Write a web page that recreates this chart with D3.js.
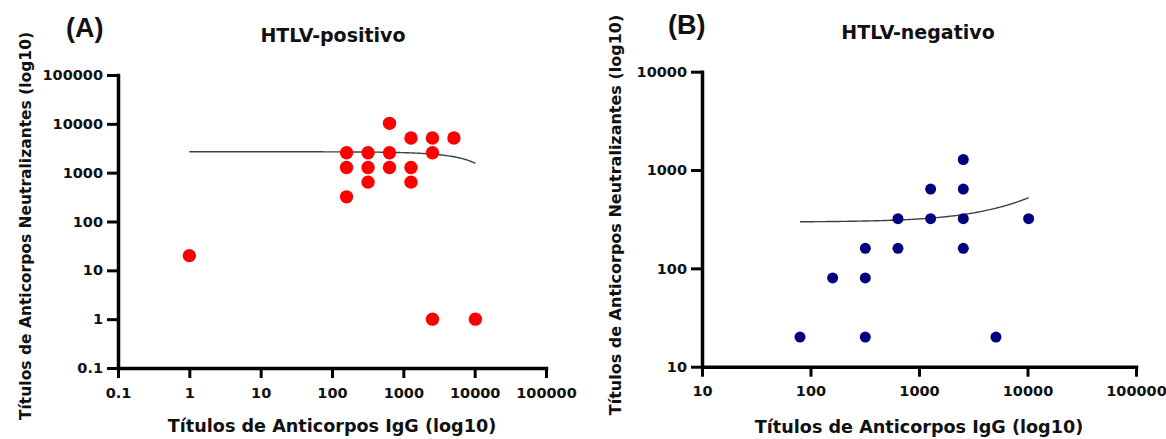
<!DOCTYPE html>
<html>
<head>
<meta charset="utf-8">
<script src="https://cdn.jsdelivr.net/npm/d3@7"></script>
<style>
  html, body { margin: 0; padding: 0; background: #ffffff; }
  svg { display: block; }
  text { font-family: "DejaVu Sans", sans-serif; font-weight: bold; fill: #111; }
</style>
</head>
<body>
<svg id="chart" width="1166" height="439"></svg>
<script>
// ---------- DATA ----------
const posIgG  = [1, 160, 160, 160, 320, 320, 320, 640, 640, 640, 1280, 1280, 1280, 2560, 2560, 2560, 5120, 10240];
const posNeut = [20, 2560, 1280, 320, 2560, 1280, 640, 10240, 2560, 1280, 5120, 1280, 640, 5120, 2560, 1, 5120, 1];

const negIgG  = [80, 160, 320, 320, 320, 640, 640, 1280, 1280, 2560, 2560, 2560, 2560, 5120, 10240];
const negNeut = [20, 80, 160, 80, 20, 320, 160, 640, 320, 1280, 640, 320, 160, 20, 320];

const posXTicks = [0.1, 1, 10, 100, 1000, 10000, 100000];
const posXLabels = ["0.1", "1", "10", "100", "1000", "10000", "100000"];
const posYTicks = [0.1, 1, 10, 100, 1000, 10000, 100000];
const posYLabels = ["0.1", "1", "10", "100", "1000", "10000", "100000"];

const negXTicks = [10, 100, 1000, 10000, 100000];
const negXLabels = ["10", "100", "1000", "10000", "100000"];
const negYTicks = [10, 100, 1000, 10000];
const negYLabels = ["10", "100", "1000", "10000"];

// fitted line parameters (linear fit y = intercept + slope * x), drawn over the data x-range
const posFitIntercept = 2680, posFitSlope = -0.1105, posFitFrom = 1, posFitTo = 10240;
const negFitIntercept = 296, negFitSlope = 0.0221, negFitFrom = 80, negFitTo = 10240;

const titles = ["HTLV-positivo", "HTLV-negativo"];
const panelTags = ["(A)", "(B)"];
const xTitle = "Títulos de Anticorpos IgG (log10)";
const yTitle = "Títulos de Anticorpos Neutralizantes (log10)";

// ---------- DRAW ----------
const svg = d3.select("#chart");

function panel(cfg) {
  const g = svg.append("g");
  const x = d3.scaleLog().domain(cfg.xDomain).range(cfg.xRange);
  const y = d3.scaleLog().domain(cfg.yDomain).range(cfg.yRange);

  // fit curve
  const n = 200;
  const lf = Math.log10(cfg.fit.from), lt = Math.log10(cfg.fit.to);
  const fitPts = d3.range(n + 1).map(i => {
    const xv = Math.pow(10, lf + (lt - lf) * i / n);
    return [xv, cfg.fit.a + cfg.fit.b * xv];
  });
  g.append("path")
    .datum(fitPts)
    .attr("fill", "none")
    .attr("stroke", "#404040")
    .attr("stroke-width", 1.4)
    .attr("d", d3.line().x(d => x(d[0])).y(d => y(d[1])));

  // points
  g.selectAll("circle.pt")
    .data(cfg.xs.map((v, i) => [v, cfg.ys[i]]))
    .join("circle")
    .attr("class", "pt")
    .attr("cx", d => x(d[0]))
    .attr("cy", d => y(d[1]))
    .attr("r", cfg.r)
    .attr("fill", cfg.color);

  // axes
  const xAxis = d3.axisBottom(x)
    .tickValues(cfg.xTicks)
    .tickFormat((d, i) => cfg.xLabels[i])
    .tickSizeInner(10).tickSizeOuter(0).tickPadding(6);
  const yAxis = d3.axisLeft(y)
    .tickValues(cfg.yTicks)
    .tickFormat((d, i) => cfg.yLabels[i])
    .tickSizeInner(11).tickSizeOuter(0).tickPadding(4);

  const gx = g.append("g").attr("transform", `translate(0,${cfg.yRange[0]})`).call(xAxis);
  const gy = g.append("g").attr("transform", `translate(${cfg.xRange[0]},0)`).call(yAxis);
  [gx, gy].forEach(a => {
    a.select(".domain").attr("stroke", "#000").attr("stroke-width", 3.5).attr("stroke-linecap", "square");
    a.selectAll(".tick line").attr("stroke", "#000").attr("stroke-width", 3);
    a.selectAll(".tick text")
      .attr("fill", "#111")
      .style("font-family", '"DejaVu Sans", sans-serif')
      .style("font-weight", "bold")
      .style("font-size", "14.5px");
  });
  gx.selectAll(".tick text").attr("dy", "0.95em");

  // titles
  g.append("text")
    .attr("x", cfg.titleX).attr("y", cfg.titleY)
    .attr("text-anchor", "middle")
    .style("font-size", "19px")
    .text(cfg.title);

  g.append("text")
    .attr("x", cfg.tagX).attr("y", cfg.tagY)
    .style("font-family", '"Liberation Sans", Arial, sans-serif')
    .style("font-size", "27px")
    .attr("fill", "#000")
    .text(cfg.tag);

  g.append("text")
    .attr("x", (cfg.xRange[0] + cfg.xRange[1]) / 2)
    .attr("y", cfg.xTitleY)
    .attr("text-anchor", "middle")
    .style("font-size", "17.6px")
    .text(xTitle);

  g.append("text")
    .attr("transform", `translate(${cfg.yTitleX},${cfg.yTitleCY}) rotate(-90)`)
    .attr("text-anchor", "middle")
    .style("font-size", cfg.yTitleSize)
    .text(yTitle);
}

panel({
  xs: posIgG, ys: posNeut, color: "#ff0000", r: 6.7,
  xDomain: [0.1, 100000], xRange: [118, 546],
  yDomain: [0.1, 100000], yRange: [368, 75],
  xTicks: posXTicks, xLabels: posXLabels, yTicks: posYTicks, yLabels: posYLabels,
  fit: { a: posFitIntercept, b: posFitSlope, from: posFitFrom, to: posFitTo },
  title: titles[0], titleX: 333, titleY: 42,
  tag: panelTags[0], tagX: 66, tagY: 37,
  xTitleY: 432, yTitleX: 31, yTitleCY: 226, yTitleSize: "15.5px"
});

panel({
  xs: negIgG, ys: negNeut, color: "#000080", r: 5.5,
  xDomain: [10, 100000], xRange: [702, 1136],
  yDomain: [10, 10000], yRange: [366.7, 71.7],
  xTicks: negXTicks, xLabels: negXLabels, yTicks: negYTicks, yLabels: negYLabels,
  fit: { a: negFitIntercept, b: negFitSlope, from: negFitFrom, to: negFitTo },
  title: titles[1], titleX: 918, titleY: 39,
  tag: panelTags[1], tagX: 668, tagY: 34,
  xTitleY: 433, yTitleX: 621, yTitleCY: 215, yTitleSize: "16px"
});
</script>
</body>
</html>
